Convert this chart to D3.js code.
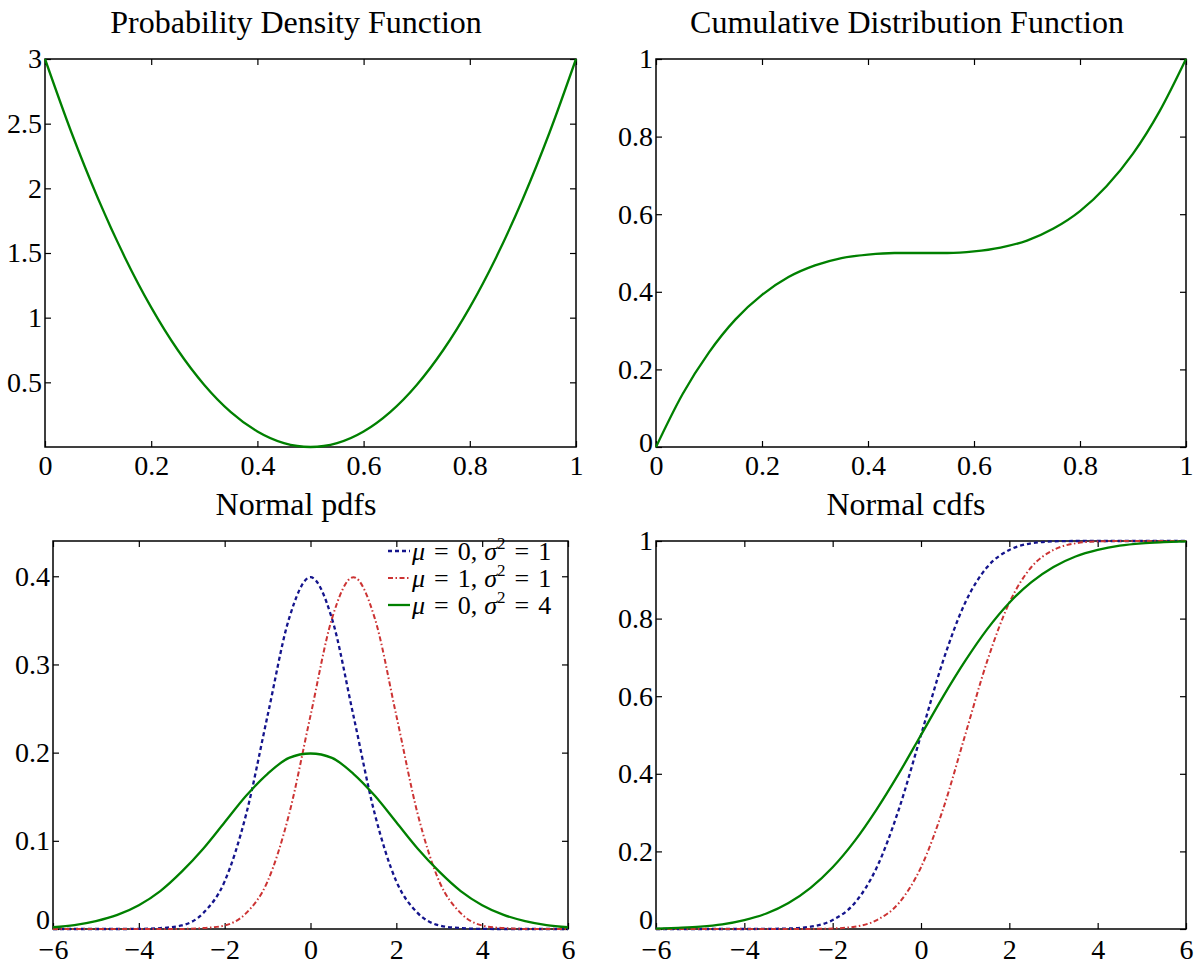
<!DOCTYPE html>
<html>
<head>
<meta charset="utf-8">
<script src="https://cdn.jsdelivr.net/npm/d3@7"></script>
<style>
  html, body { margin: 0; padding: 0; background: #fff; }
  svg text { font-family: "Liberation Serif", "Times New Roman", serif; fill: #000; }
</style>
</head>
<body>
<div id="chart"></div>
<script>
// ---- data ----

// top row: density and distribution on [0, 1]
const unitX   = [0, 0.05, 0.1, 0.15, 0.2, 0.25, 0.3, 0.35, 0.4, 0.45, 0.5,
                 0.55, 0.6, 0.65, 0.7, 0.75, 0.8, 0.85, 0.9, 0.95, 1];
const pdfVals = [3.0, 2.43, 1.92, 1.47, 1.08, 0.75, 0.48, 0.27, 0.12, 0.03, 0,
                 0.03, 0.12, 0.27, 0.48, 0.75, 1.08, 1.47, 1.92, 2.43, 3.0];
const cdfVals = [0, 0.136, 0.244, 0.329, 0.392, 0.438, 0.468, 0.487, 0.496, 0.5, 0.5,
                 0.5, 0.504, 0.514, 0.532, 0.563, 0.608, 0.672, 0.756, 0.865, 1];

// bottom row: three normal curves on [-6, 6]
const normX = [-6, -5.5, -5, -4.5, -4, -3.5, -3, -2.5, -2, -1.5, -1, -0.5, 0,
               0.5, 1, 1.5, 2, 2.5, 3, 3.5, 4, 4.5, 5, 5.5, 6];
const pdfMu0S1 = [0, 0, 0, 0, 0.0001, 0.001, 0.004, 0.018, 0.054, 0.130, 0.242, 0.352, 0.399,
                  0.352, 0.242, 0.130, 0.054, 0.018, 0.004, 0.001, 0.0001, 0, 0, 0, 0];
const pdfMu1S1 = [0, 0, 0, 0, 0, 0, 0.0001, 0.001, 0.004, 0.018, 0.054, 0.130, 0.242,
                  0.352, 0.399, 0.352, 0.242, 0.130, 0.054, 0.018, 0.004, 0.001, 0.0001, 0, 0];
const pdfMu0S4 = [0.002, 0.0045, 0.009, 0.016, 0.027, 0.043, 0.065, 0.091, 0.121, 0.151, 0.176, 0.194, 0.199,
                  0.194, 0.176, 0.151, 0.121, 0.091, 0.065, 0.043, 0.027, 0.016, 0.009, 0.0045, 0.002];
const cdfMu0S1 = [0, 0, 0, 0, 0, 0.0002, 0.0013, 0.006, 0.023, 0.067, 0.159, 0.309, 0.5,
                  0.691, 0.841, 0.933, 0.977, 0.994, 0.999, 1, 1, 1, 1, 1, 1];
const cdfMu1S1 = [0, 0, 0, 0, 0, 0, 0, 0.0002, 0.0013, 0.006, 0.023, 0.067, 0.159,
                  0.309, 0.5, 0.691, 0.841, 0.933, 0.977, 0.994, 0.999, 1, 1, 1, 1];
const cdfMu0S4 = [0.001, 0.003, 0.006, 0.012, 0.023, 0.040, 0.067, 0.106, 0.159, 0.227, 0.309, 0.401, 0.5,
                  0.599, 0.691, 0.773, 0.841, 0.894, 0.933, 0.960, 0.977, 0.988, 0.994, 0.997, 0.999];

// tick labels
const unitTicks    = [0, 0.2, 0.4, 0.6, 0.8, 1];
const pdfTicks     = [0.5, 1, 1.5, 2, 2.5, 3];
const normXTicks   = [-6, -4, -2, 0, 2, 4, 6];
const normPdfTicks = [0, 0.1, 0.2, 0.3, 0.4];

const seriesNames = ["mu0s1", "mu1s1", "mu0s4"];
const legendMu    = ["0", "1", "0"];
const legendVar   = ["1", "1", "4"];

// ---- drawing ----
const W = 1196, H = 965;
const svg = d3.select("#chart").append("svg")
  .attr("width", W).attr("height", H)
  .attr("viewBox", `0 0 ${W} ${H}`);

svg.append("rect").attr("width", W).attr("height", H).attr("fill", "#fff");

const styles = {
  mu0s1: { color: "#14148c", dash: "4,3", width: 2.3 },
  mu1s1: { color: "#cc3333", dash: "5,2.5,1.5,2.5", width: 2 },
  mu0s4: { color: "#008000", dash: null, width: 2.3 }
};

const fmt = d => d < 0 ? "\u2212" + Math.abs(d) : String(d);

function panel(o) {
  const x = d3.scaleLinear().domain(o.xDomain).range([o.left, o.right]);
  const y = d3.scaleLinear().domain(o.yDomain).range([o.bottom, o.top]);
  const g = svg.append("g");

  // axes: ticks inward on all four sides
  const tk = 6;
  g.append("g").attr("transform", `translate(0,${o.bottom})`)
    .call(d3.axisBottom(x).tickValues(o.xTicks).tickFormat(fmt)
      .tickSizeInner(-tk).tickSizeOuter(0).tickPadding(o.xPad || 8));
  g.append("g").attr("transform", `translate(0,${o.top})`)
    .call(d3.axisTop(x).tickValues(o.xTicks).tickFormat("")
      .tickSizeInner(-tk).tickSizeOuter(0));
  const yAxis = g.append("g").attr("transform", `translate(${o.left},0)`)
    .call(d3.axisLeft(y).tickValues(o.yTicks).tickFormat(fmt)
      .tickSizeInner(-tk).tickSizeOuter(0).tickPadding(3));
  g.append("g").attr("transform", `translate(${o.right},0)`)
    .call(d3.axisRight(y).tickValues(o.yTicks).tickFormat("")
      .tickSizeInner(-tk).tickSizeOuter(0));

  g.selectAll(".domain").remove();
  g.selectAll(".tick line").attr("stroke", "#000").attr("stroke-width", 1.2);
  g.selectAll(".tick text")
    .style("font-family", '"Liberation Serif", serif')
    .style("font-size", "28px").attr("fill", "#000");

  // lift the y "0" a little where it would collide with the first x label
  if (o.liftZero) {
    yAxis.selectAll(".tick").filter(d => d === 0).select("text")
      .attr("y", -o.liftZero);
  }

  g.append("rect")
    .attr("x", o.left).attr("y", o.top)
    .attr("width", o.right - o.left).attr("height", o.bottom - o.top)
    .attr("fill", "none").attr("stroke", "#000").attr("stroke-width", 1.5);

  // curves
  const line = d3.line()
    .x(d => x(d[0])).y(d => y(d[1]))
    .curve(d3.curveMonotoneX);
  o.series.forEach(s => {
    const st = styles[s.name];
    g.append("path")
      .datum(o.xs.map((v, i) => [v, s.values[i]]))
      .attr("d", line)
      .attr("fill", "none")
      .attr("stroke", st.color)
      .attr("stroke-width", st.width)
      .attr("stroke-dasharray", st.dash);
  });

  svg.append("text")
    .attr("x", o.titleX).attr("y", o.top - 26)
    .attr("text-anchor", "middle")
    .style("font-size", "32px")
    .text(o.title);

  return { x, y, g };
}

panel({
  left: 45, right: 576, top: 59, bottom: 447,
  xDomain: [0, 1], yDomain: [0, 3], xTicks: unitTicks, yTicks: pdfTicks,
  xs: unitX, series: [{ name: "mu0s4", values: pdfVals }],
  title: "Probability Density Function", titleX: 296
});

panel({
  left: 656, right: 1186, top: 59, bottom: 447,
  xDomain: [0, 1], yDomain: [0, 1], xTicks: unitTicks, yTicks: unitTicks,
  xs: unitX, liftZero: 4, series: [{ name: "mu0s4", values: cdfVals }],
  title: "Cumulative Distribution Function", titleX: 907
});

panel({
  left: 53, right: 568, top: 541, bottom: 929,
  xDomain: [-6, 6], yDomain: [0, 0.44], xTicks: normXTicks, yTicks: normPdfTicks,
  xs: normX, xPad: 10, liftZero: 9,
  series: [
    { name: "mu0s1", values: pdfMu0S1 },
    { name: "mu1s1", values: pdfMu1S1 },
    { name: "mu0s4", values: pdfMu0S4 }
  ],
  title: "Normal pdfs", titleX: 296
});

panel({
  left: 656, right: 1186, top: 541, bottom: 929,
  xDomain: [-6, 6], yDomain: [0, 1], xTicks: normXTicks, yTicks: unitTicks,
  xs: normX, xPad: 10, liftZero: 9,
  series: [
    { name: "mu0s1", values: cdfMu0S1 },
    { name: "mu1s1", values: cdfMu1S1 },
    { name: "mu0s4", values: cdfMu0S4 }
  ],
  title: "Normal cdfs", titleX: 906
});

// legend inside the "Normal pdfs" panel
const leg = svg.append("g");
seriesNames.forEach((name, i) => {
  const st = styles[name];
  const cy = 551 + i * 27;
  leg.append("line")
    .attr("x1", 388).attr("x2", 410).attr("y1", cy).attr("y2", cy)
    .attr("stroke", st.color).attr("stroke-width", st.width)
    .attr("stroke-dasharray", st.dash);
  const t = leg.append("text")
    .attr("x", 412).attr("y", cy + 9)
    .style("font-size", "26px");
  t.append("tspan").style("font-style", "italic").text("\u03bc");
  t.append("tspan").attr("dx", 9).text("=");
  t.append("tspan").attr("dx", 9).text(legendMu[i] + ",");
  t.append("tspan").attr("dx", 7).style("font-style", "italic").text("\u03c3");
  t.append("tspan").attr("dy", -11).style("font-size", "17px").text("2");
  t.append("tspan").attr("dy", 11).attr("dx", 9).text("=");
  t.append("tspan").attr("dx", 9).text(legendVar[i]);
});
</script>
</body>
</html>
